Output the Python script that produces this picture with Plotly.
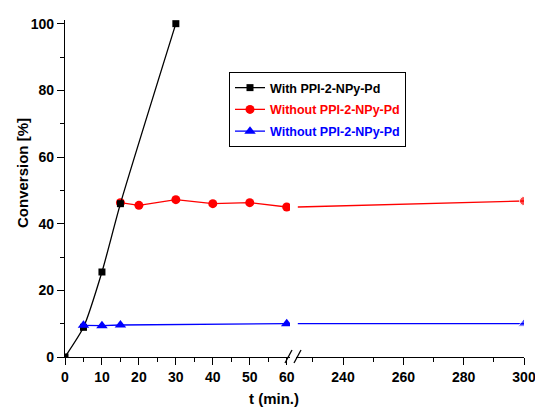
import plotly.graph_objects as go

# ---- data ----
black_t = [0, 5, 10, 15, 30]
black_conv = [0, 8.9, 25.5, 46.0, 100]

red_t = [15, 20, 30, 40, 50, 60]
red_conv = [46.3, 45.5, 47.2, 46.0, 46.3, 45.0]
red_t_late = [300]
red_conv_late = [46.8]

blue_t = [5, 10, 15, 60]
blue_conv = [9.5, 9.4, 9.6, 10.0]
blue_t_late = [300]
blue_conv_late = [10.0]

names = ["With PPI-2-NPy-Pd", "Without PPI-2-NPy-Pd", "Without PPI-2-NPy-Pd"]
colors = ["#000000", "#ff0000", "#0000ff"]

left_ticks = [0, 10, 20, 30, 40, 50, 60]
right_ticks = [240, 260, 280, 300]
y_ticks = [0, 20, 40, 60, 80, 100]

# ---- layout geometry (page pixels) ----
W, H = 535, 410
plot_left, plot_right, plot_top, plot_bottom = 65, 524, 20, 357
L, R, T, B = plot_left, W - plot_right, plot_top, H - plot_bottom
PW, PH = plot_right - plot_left, plot_bottom - plot_top

def px_x(p):
    return (p - plot_left) / PW

def px_y(p):
    return (plot_bottom - p) / PH

left_end_px, right_start_px = 290, 296
left_range = [0, (left_end_px - plot_left) / 3.695]
right_range = [300 - (plot_right - right_start_px) / 3.0167, 300]
brk = right_range[0] + 0.6

fig = go.Figure()

# red (drawn first)
fig.add_trace(go.Scatter(x=red_t, y=red_conv, mode="lines+markers",
                         name=f"<span style='color:{colors[1]}'>{names[1]}</span>",
                         line=dict(color=colors[1], width=1.3),
                         marker=dict(symbol="circle", size=9, color=colors[1]),
                         legendrank=2, legendgroup="g2", xaxis="x", yaxis="y"))
fig.add_trace(go.Scatter(x=[brk] + red_t_late, y=[red_conv[-1]] + red_conv_late,
                         mode="lines+markers", showlegend=False, legendgroup="g2",
                         line=dict(color=colors[1], width=1.3),
                         marker=dict(symbol="circle", size=[0, 9], color=colors[1]),
                         xaxis="x2", yaxis="y"))
# black
fig.add_trace(go.Scatter(x=black_t, y=black_conv, mode="lines+markers",
                         name=f"<span style='color:{colors[0]}'>{names[0]}</span>",
                         line=dict(color=colors[0], width=1.3, shape="spline", smoothing=0.6),
                         marker=dict(symbol="square", size=7, color=colors[0]),
                         legendrank=1, legendgroup="g1", xaxis="x", yaxis="y"))
# blue
fig.add_trace(go.Scatter(x=blue_t, y=blue_conv, mode="lines+markers",
                         name=f"<span style='color:{colors[2]}'>{names[2]}</span>",
                         line=dict(color=colors[2], width=1.3),
                         marker=dict(symbol="triangle-up", size=10, color=colors[2]),
                         legendrank=3, legendgroup="g3", xaxis="x", yaxis="y"))
fig.add_trace(go.Scatter(x=[brk] + blue_t_late, y=[blue_conv[-1]] + blue_conv_late,
                         mode="lines+markers", showlegend=False, legendgroup="g3",
                         line=dict(color=colors[2], width=1.3),
                         marker=dict(symbol="triangle-up", size=[0, 10], color=colors[2]),
                         xaxis="x2", yaxis="y"))

tickfont = dict(family="Liberation Sans, Arial", size=14, color="black", weight="bold")
axis_common = dict(showline=True, linecolor="black", linewidth=1.2, ticks="outside",
                   ticklen=7, tickwidth=1.2, tickcolor="black", showgrid=False,
                   zeroline=False, tickfont=tickfont, automargin=False,
                   ticklabeloverflow="allow")

fig.update_layout(
    width=W, height=H, autosize=False,
    margin=dict(l=L, r=R, t=T, b=B, pad=0, autoexpand=False),
    plot_bgcolor="white", paper_bgcolor="white",
    showlegend=True,
    legend=dict(x=px_x(229), y=px_y(72), xanchor="left", yanchor="top",
                bgcolor="white", bordercolor="black", borderwidth=1,
                font=dict(family="Liberation Sans, Arial", size=12.5, weight="bold"),
                itemwidth=30, traceorder="grouped", tracegroupgap=2.5),
    xaxis=dict(domain=[0, px_x(left_end_px)], range=left_range,
               tickvals=left_ticks,
               minor=dict(dtick=5, tick0=0, ticklen=4, tickwidth=1.2, tickcolor="black", ticks="outside"),
               anchor="y", **axis_common),
    xaxis2=dict(domain=[px_x(right_start_px), 1], range=right_range,
                tickvals=right_ticks,
                minor=dict(dtick=10, tick0=0, ticklen=4, tickwidth=1.2, tickcolor="black", ticks="outside"),
                anchor="y", **axis_common),
    yaxis=dict(range=[0, 101.1], tickvals=y_ticks,
               minor=dict(dtick=10, tick0=0, ticklen=4, tickwidth=1.2, tickcolor="black", ticks="outside"),
               **axis_common),
)

# axis titles
fig.add_annotation(text="<b>t (min.)</b>", x=px_x(274), y=px_y(398), xref="paper", yref="paper",
                   showarrow=False, xanchor="center", yanchor="middle",
                   font=dict(family="Liberation Sans, Arial", size=15, color="black"))
fig.add_annotation(text="<b>Conversion [%]</b>", x=px_x(22), y=px_y(173), xref="paper", yref="paper",
                   showarrow=False, xanchor="center", yanchor="middle", textangle=-90,
                   font=dict(family="Liberation Sans, Arial", size=15, color="black"))

# axis break slashes
for x0 in (285, 294):
    fig.add_shape(type="line", xref="paper", yref="paper",
                  x0=px_x(x0), y0=px_y(363), x1=px_x(x0 + 7), y1=px_y(350),
                  line=dict(color="black", width=1.3))

fig.write_html("out.html", config={"displayModeBar": False},
               post_script="document.body.style.margin='0';document.body.style.overflow='hidden';")
